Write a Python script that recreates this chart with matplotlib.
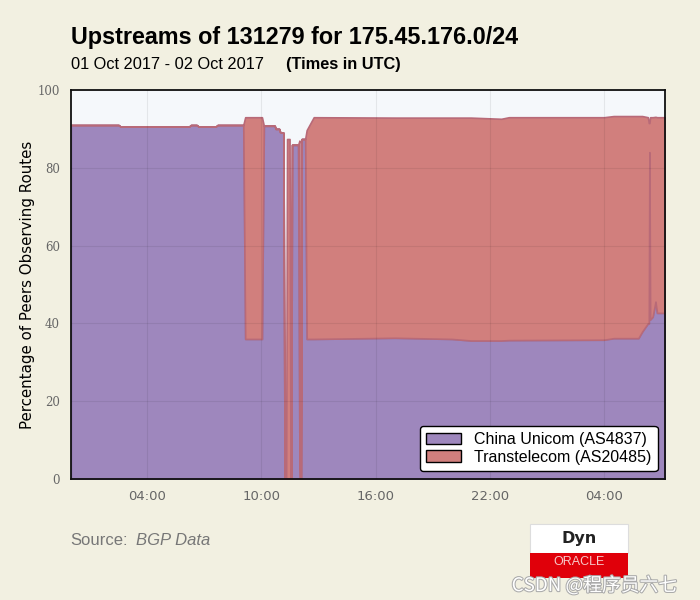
import matplotlib
matplotlib.use('Agg')
import matplotlib.pyplot as plt
from matplotlib.patches import Patch, Rectangle
import matplotlib.patheffects as pe

# hours since 01 Oct 2017 00:00 UTC
hours = [0.0, 2.5, 2.6, 6.2, 6.3, 6.6, 6.7, 7.6, 7.7, 9.05,
         9.15, 10.03, 10.13, 10.7, 10.75, 10.93, 10.98, 11.16, 11.22, 11.30,
         11.35, 11.48, 11.53, 11.57, 11.61, 11.93, 12.00, 12.03, 12.08, 12.12,
         12.30, 12.38, 12.75, 17.0, 20.0, 21.0, 22.6, 23.0, 28.0, 28.5,
         29.8, 30.0, 30.3, 30.35, 30.38, 30.42, 30.55, 30.7, 30.78, 31.2]

china_unicom = [91.0, 91.0, 90.6, 90.6, 91.0, 91.0, 90.6, 90.6, 91.0, 91.0,
                36.0, 36.0, 90.8, 90.8, 90.0, 90.0, 89.2, 89.0, 0.0, 0.0,
                0.0, 0.0, 0.0, 0.0, 85.9, 85.9, 5.0, 0.0, 0.0, 87.4,
                87.4, 36.0, 36.0, 36.3, 36.0, 35.6, 35.6, 35.7, 35.8, 36.2,
                36.2, 37.9, 40.0, 40.0, 84.0, 41.0, 41.7, 45.6, 42.7, 42.7]

transtelecom = [0.0, 0.0, 0.0, 0.0, 0.0, 0.0, 0.0, 0.0, 0.0, 0.0,
                57.0, 57.0, 0.0, 0.0, 0.0, 0.0, 0.0, 0.0, 0.0, 0.0,
                87.4, 87.4, 0.0, 0.0, 0.0, 0.0, 82.0, 0.0, 0.0, 0.0,
                0.0, 53.7, 57.0, 56.6, 56.9, 57.3, 57.0, 57.3, 57.2, 57.1,
                57.1, 55.4, 53.0, 51.5, 7.5, 52.0, 51.3, 47.5, 50.3, 50.3]

tick_hours = [4, 10, 16, 22, 28]
tick_labels = ['04:00', '10:00', '16:00', '22:00', '04:00']
y_ticks = [0, 20, 40, 60, 80, 100]

BG = '#f2f0e1'
PURPLE = '#9e87bd'
RED = '#d17f7d'

fig = plt.figure(figsize=(7, 6), dpi=100, facecolor=BG)
ax = fig.add_axes([0.1014, 0.2017, 0.8486, 0.6483])
ax.set_facecolor('#f5f8fb')

top = [a + b for a, b in zip(china_unicom, transtelecom)]
ax.fill_between(hours, 0, china_unicom, facecolor=PURPLE, edgecolor='#8d72ad', lw=1.2)
ax.fill_between(hours, china_unicom, top, facecolor=RED, edgecolor='#b86a78', lw=1.2)

ax.set_xlim(0, 31.2)
ax.set_ylim(0, 100)
ax.set_xticks(tick_hours)
ax.set_xticklabels(tick_labels, color='#666666', fontsize=9.5)
ax.set_yticks(y_ticks)
ax.set_yticklabels([str(v) for v in y_ticks], color='#666666', fontsize=8.5, family='DejaVu Serif')
ax.tick_params(length=0, pad=8)
ax.set_axisbelow(False)
ax.grid(True, color='black', alpha=0.07, lw=0.8)
for s in ax.spines.values():
    s.set_linewidth(1.3)
    s.set_color('#111111')

ax.set_ylabel('Percentage of Peers Observing Routes', fontsize=10.8, labelpad=2)

handles = [Patch(facecolor=PURPLE, edgecolor='black', label='China Unicom (AS4837)'),
           Patch(facecolor=RED, edgecolor='black', label='Transtelecom (AS20485)')]
leg = ax.legend(handles=handles, loc='lower right', frameon=True,
                prop={'family': 'Liberation Sans', 'size': 11.5},
                fancybox=True, framealpha=1, edgecolor='black',
                borderpad=0.4, labelspacing=0.15, handlelength=2.2,
                bbox_to_anchor=(1.001, 0.0))
leg.get_frame().set_linewidth(1.0)

# title block
fig.text(0.101, 0.938, 'Upstreams of 131279 for 175.45.176.0/24', fontsize=16.8,
         fontweight='bold', family='Liberation Sans', va='center')
fig.text(0.101, 0.893, '01 Oct 2017 - 02 Oct 2017', fontsize=11.8,
         family='Liberation Sans', va='center')
fig.text(0.408, 0.893, '(Times in UTC)', fontsize=11.8, fontweight='bold',
         family='Liberation Sans', va='center')

# source
fig.text(0.101, 0.099, 'Source:', fontsize=12, color='#777777',
         family='Liberation Sans', va='center')
fig.text(0.194, 0.099, 'BGP Data', fontsize=12, color='#777777', style='italic',
         family='Liberation Sans', va='center')

# logo
fig.patches.append(Rectangle((0.757, 0.078), 0.14, 0.049, transform=fig.transFigure,
                             facecolor='white', edgecolor='#dddddd', lw=0.8))
fig.patches.append(Rectangle((0.757, 0.037), 0.14, 0.041, transform=fig.transFigure,
                             facecolor='#e0000a', edgecolor='none'))
fig.text(0.827, 0.102, 'Dyn', fontsize=11.5, fontweight='bold', ha='center',
         va='center', color='#222222')
fig.text(0.827, 0.063, 'ORACLE', fontsize=9, ha='center', va='center',
         color='#f6c8c8', family='Liberation Sans')

# watermark
wm = fig.text(0.731, 0.024, 'CSDN @程序员六七', fontsize=13.5, color='white',
              family=['Noto Sans CJK SC', 'DejaVu Sans'], va='center')
wm.set_path_effects([pe.withStroke(linewidth=1.5, foreground='#aaaaaa')])

fig.savefig('out.png', dpi=100, facecolor=BG)
